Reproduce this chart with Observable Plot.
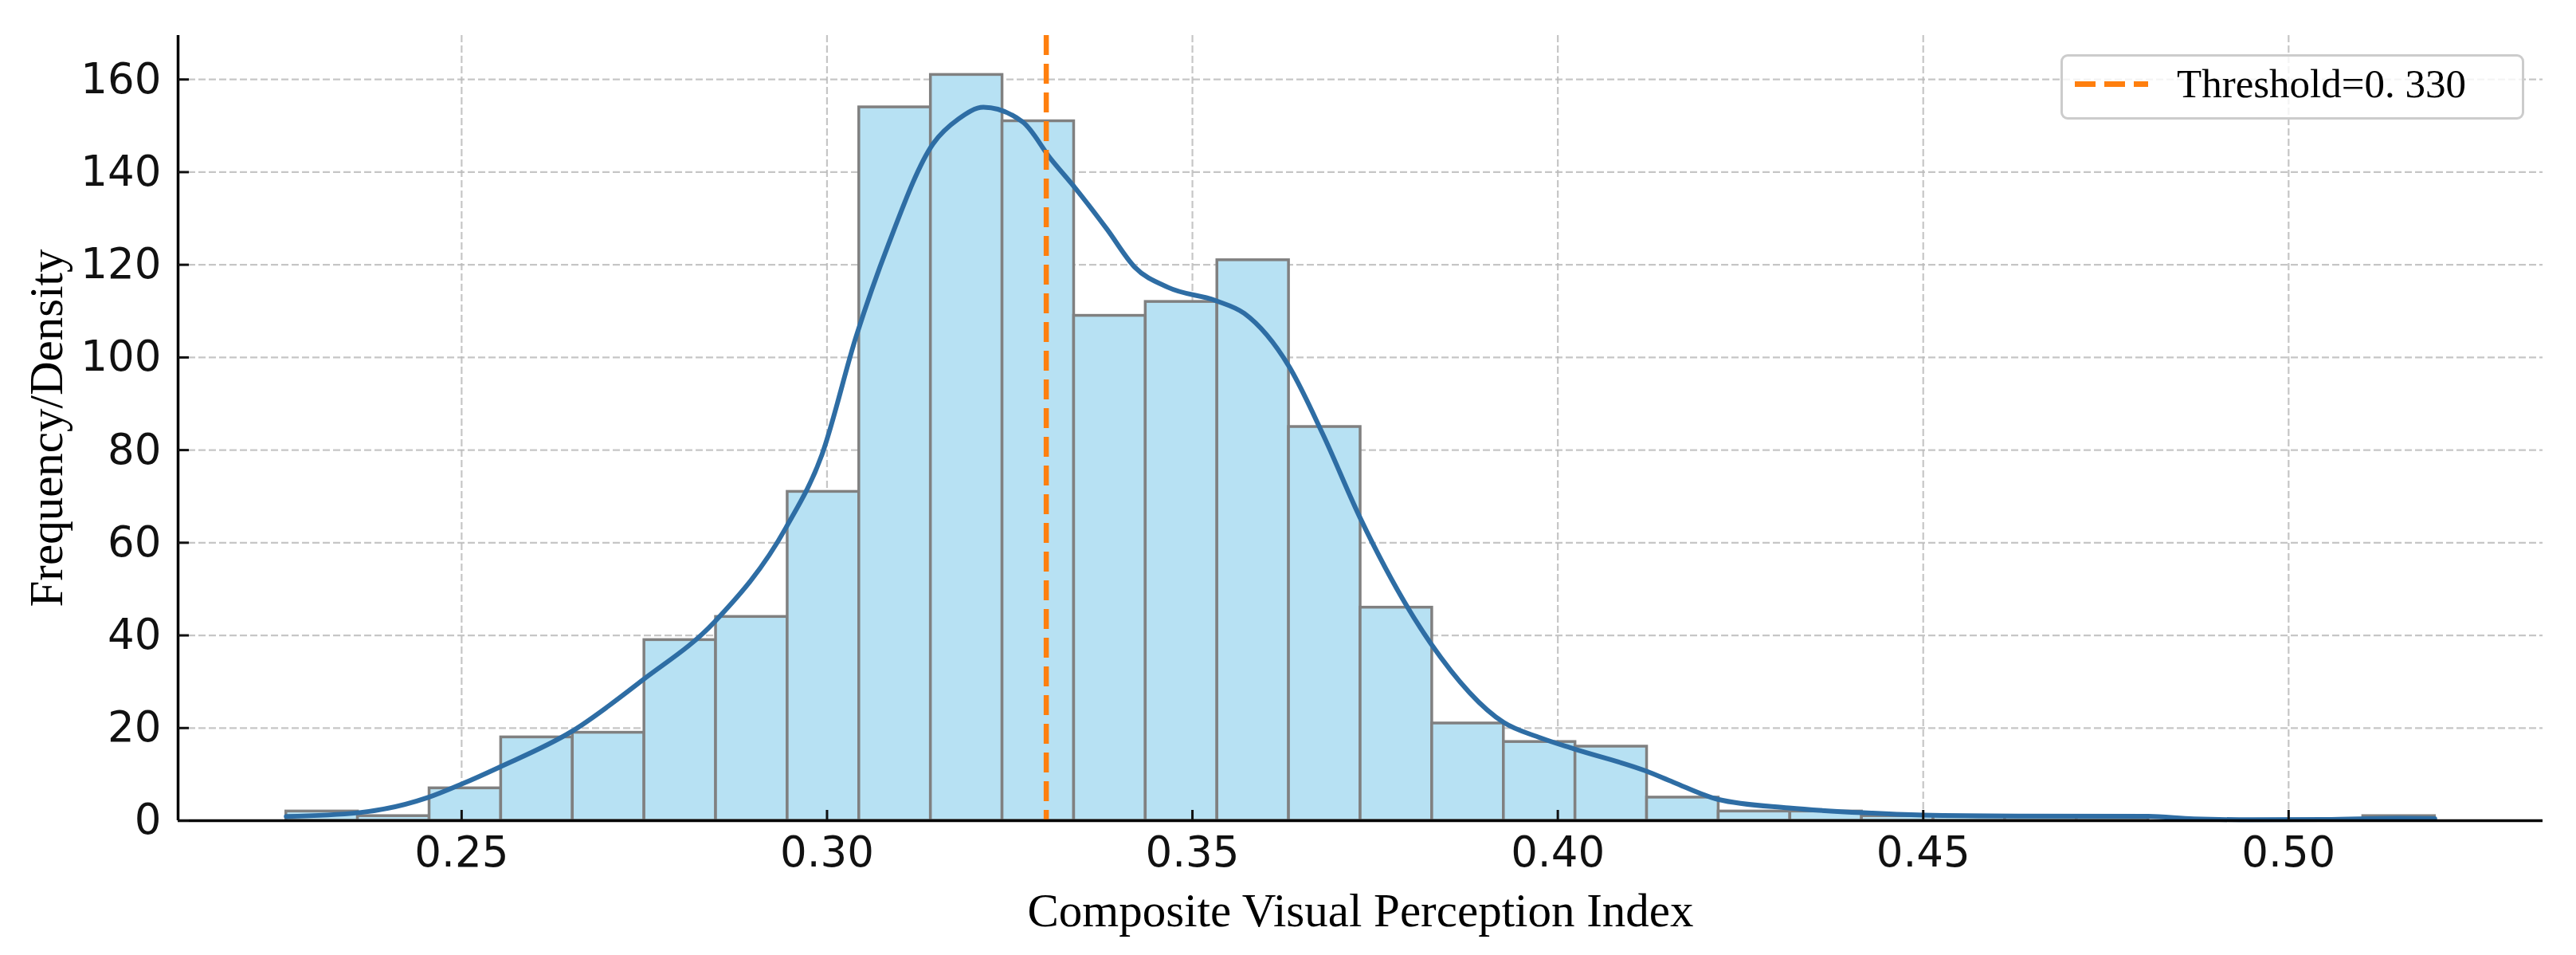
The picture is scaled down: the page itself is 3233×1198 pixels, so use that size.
<!DOCTYPE html>
<html>
<head>
<meta charset="utf-8">
<script src="https://cdn.jsdelivr.net/npm/d3@7"></script>
<script src="https://cdn.jsdelivr.net/npm/@observablehq/plot@0.6"></script>
<style>
  html, body { margin: 0; padding: 0; background: white; }
  #wrap { position: relative; width: 3233px; height: 1198px; }
  #legend {
    position: absolute; left: 2586px; top: 68px; width: 582px; height: 82px;
    box-sizing: border-box; border: 3px solid #cccccc; border-radius: 9px;
    background: rgba(255,255,255,0.8);
  }
  #legend-line {
    position: absolute; left: 2604px; top: 102px; width: 92px; height: 7px;
    background: repeating-linear-gradient(to right, #ff7f0e 0 26px, transparent 26px 37px);
  }
  #legend-text {
    position: absolute; left: 2732px; top: 80px; font-family: "Liberation Serif", serif;
    font-size: 51px; line-height: 51px; color: #000; white-space: pre;
  }
</style>
</head>
<body>
<div id="wrap"></div>
<script>
// ---- data ----
const binStart = 0.226;
const binWidth = 0.0098;
const binCounts = [2, 1, 7, 18, 19, 39, 44, 71, 154, 161, 151, 109, 112, 121, 85, 46, 21, 17, 16, 5, 2, 2, 1, 1, 1, 1, 0, 0, 0, 1];

const kdeX = [0.2260, 0.2358, 0.2454, 0.2500, 0.2551, 0.2650, 0.2748, 0.2846, 0.2944, 0.2993, 0.3040, 0.3084, 0.3145, 0.3180, 0.3214, 0.3268, 0.3306, 0.3340, 0.3383, 0.3421, 0.3467, 0.3533, 0.3571, 0.3632, 0.3678, 0.3730, 0.3826, 0.3926, 0.3976, 0.4022, 0.4121, 0.4158, 0.4219, 0.4316, 0.4418, 0.4500, 0.4631, 0.4808, 0.4870, 0.4950, 0.5050, 0.5150, 0.5200];
const kdeY = [0.9, 1.7, 5.0, 7.9, 11.5, 19.2, 30.4, 42.9, 63.3, 79.0, 104.6, 124.4, 146.1, 151.5, 154.0, 150.8, 142.9, 136.5, 127.7, 119.5, 115.1, 112.2, 109.5, 98.1, 83.6, 65.2, 38.3, 21.2, 17.9, 15.5, 10.7, 8.3, 4.6, 2.75, 1.7, 1.2, 1.0, 0.95, 0.4, 0.2, 0.25, 0.5, 0.45];

const xTicks = [0.25, 0.30, 0.35, 0.40, 0.45, 0.50];
const yTicks = [0, 20, 40, 60, 80, 100, 120, 140, 160];
const threshold = 0.330;
const xLabel = "Composite Visual Perception Index";
const yLabel = "Frequency/Density";
const legendLabel = "Threshold=0. 330";

// ---- build tables ----
const bins = binCounts.map((c, i) => ({x1: binStart + i * binWidth, x2: binStart + (i + 1) * binWidth, count: c}));
const kde = kdeX.map((x, i) => ({x, y: kdeY[i]}));

const xDomain = [0.2112, 0.5348];
const gridStyle = {stroke: "#b8b8b8", strokeOpacity: 0.8, strokeWidth: 2.2, strokeDasharray: "9,4"};

const chart = Plot.plot({
  width: 3233,
  height: 1198,
  marginLeft: 223,
  marginRight: 42,
  marginTop: 44,
  marginBottom: 169,
  x: {domain: xDomain},
  y: {domain: [0, 169.5]},
  style: {fontFamily: "DejaVu Sans", fontSize: "52px", color: "#111", background: "white"},
  marks: [
    Plot.gridX(xTicks, gridStyle),
    Plot.gridY(yTicks, gridStyle),
    Plot.rectY(bins, {x1: "x1", x2: "x2", y: "count", fill: "#b7e1f3", stroke: "#808080", strokeWidth: 3.5}),
    Plot.line(kde, {x: "x", y: "y", stroke: "#2e6da4", strokeWidth: 6, curve: "monotone-x"}),
    Plot.ruleX([threshold], {stroke: "#ff7f0e", strokeWidth: 6.5, strokeDasharray: "25,11"}),
    Plot.ruleY([0], {stroke: "black", strokeWidth: 3.5}),
    Plot.ruleX([xDomain[0]], {stroke: "black", strokeWidth: 3.5}),
    Plot.axisX(xTicks, {tickSize: -13, tickPadding: 33, strokeWidth: 3, tickFormat: d3.format(".2f"), fontSize: 53, label: null}),
    Plot.axisY(yTicks, {tickSize: -14, tickPadding: 35, strokeWidth: 3, fontSize: 53, label: null}),
    Plot.text([xLabel], {text: d => d, frameAnchor: "bottom", dy: 114, textAnchor: "middle", lineAnchor: "middle", fontFamily: "Liberation Serif", fontSize: 59, fill: "#000"}),
    Plot.text([yLabel], {text: d => d, frameAnchor: "left", dx: -164, rotate: -90, textAnchor: "middle", lineAnchor: "middle", fontFamily: "Liberation Serif", fontSize: 59, fill: "#000"})
  ]
});

const wrap = document.getElementById("wrap");
wrap.appendChild(chart);
const lg = document.createElement("div"); lg.id = "legend"; wrap.appendChild(lg);
const ll = document.createElement("div"); ll.id = "legend-line"; wrap.appendChild(ll);
const lt = document.createElement("div"); lt.id = "legend-text"; lt.textContent = legendLabel; wrap.appendChild(lt);
</script>
</body>
</html>
